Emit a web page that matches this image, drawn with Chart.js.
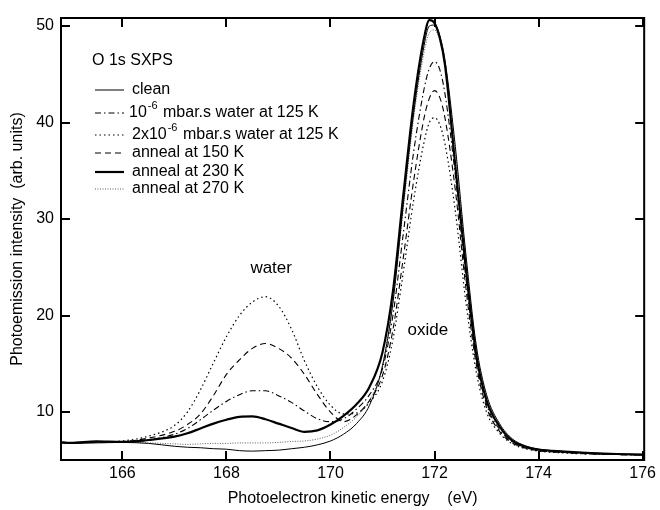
<!DOCTYPE html>
<html>
<head>
<meta charset="utf-8">
<script src="https://cdn.jsdelivr.net/npm/chart.js@4.4.1/dist/chart.umd.min.js"></script>
<style>
  html, body { margin: 0; padding: 0; background: #fff; }
</style>
</head>
<body>
<canvas id="myChartO1s" width="660" height="510"></canvas>
<script>
//? Données O 1s SXPS.

const energie = [164.8, 165.0, 165.5, 166.0, 166.5, 167.0, 167.25, 167.5, 167.75, 168.0, 168.25, 168.5, 168.75, 169.0, 169.25, 169.5, 169.75, 170.0, 170.25, 170.5, 170.75, 171.0, 171.2, 171.4, 171.6, 171.8, 171.9, 172.0, 172.1, 172.2, 172.4, 172.6, 172.8, 173.0, 173.25, 173.5, 173.75, 174.0, 174.5, 175.0, 175.5, 176.0];

const clean = [6.8, 6.75, 6.8, 6.85, 6.75, 6.45, 6.35, 6.3, 6.2, 6.15, 6.0, 5.95, 6.0, 6.05, 6.2, 6.35, 6.6, 7.0, 7.7, 8.8, 10.7, 14.8, 21.3, 31.5, 41.0, 48.0, 50.0, 50.1, 49.0, 46.5, 37.5, 26.5, 17.0, 11.8, 8.8, 7.2, 6.5, 6.15, 5.9, 5.75, 5.65, 5.55];

const eau1e6 = [6.85, 6.8, 6.9, 6.9, 7.1, 7.7, 8.3, 9.2, 10.2, 11.1, 11.8, 12.2, 12.2, 11.7, 11.0, 10.1, 9.3, 9.0, 9.3, 10.3, 11.8, 14.5, 20.0, 28.5, 37.0, 43.5, 45.6, 46.3, 45.5, 43.0, 34.5, 24.0, 15.5, 10.8, 8.2, 6.9, 6.3, 6.0, 5.8, 5.7, 5.6, 5.55];

const eau2e6 = [6.85, 6.8, 6.9, 7.0, 7.5, 8.6, 10.0, 12.3, 15.1, 17.8, 20.0, 21.4, 21.95, 21.0, 18.6, 15.3, 12.6, 10.7, 9.8, 9.9, 11.0, 13.2, 17.5, 24.5, 32.0, 38.0, 40.0, 40.5, 39.8, 37.8, 30.8, 21.5, 14.2, 10.0, 7.8, 6.7, 6.2, 5.95, 5.75, 5.65, 5.6, 5.55];

const recuit150 = [6.85, 6.8, 6.9, 6.95, 7.3, 8.0, 8.7, 9.8, 11.7, 13.9, 15.4, 16.6, 17.1, 16.6, 15.6, 13.9, 11.8, 10.0, 9.0, 9.7, 11.2, 13.8, 18.5, 26.0, 34.0, 40.5, 42.5, 43.3, 42.6, 40.5, 33.0, 23.0, 15.0, 10.5, 8.0, 6.8, 6.25, 6.0, 5.8, 5.65, 5.6, 5.55];

const recuit230 = [6.9, 6.8, 6.95, 6.9, 7.1, 7.45, 7.8, 8.3, 8.8, 9.2, 9.5, 9.55, 9.25, 8.8, 8.35, 7.95, 8.1, 8.7, 9.6, 10.8, 12.6, 16.2, 22.5, 32.5, 42.0, 48.8, 50.6, 50.3, 48.8, 46.0, 35.5, 25.0, 16.0, 11.2, 8.5, 7.0, 6.4, 6.1, 5.9, 5.75, 5.65, 5.6];

const recuit270 = [6.85, 6.8, 6.85, 6.85, 6.8, 6.7, 6.65, 6.7, 6.75, 6.75, 6.8, 6.8, 6.8, 6.85, 6.95, 7.0, 7.2, 7.6, 8.4, 9.5, 11.2, 14.8, 21.5, 31.0, 40.5, 47.3, 49.3, 49.6, 48.5, 46.0, 37.0, 26.0, 16.8, 11.6, 8.7, 7.1, 6.45, 6.1, 5.85, 5.7, 5.6, 5.55];

const etiquettes = ["clean", "10^-6 mbar.s water at 125 K", "2x10^-6 mbar.s water at 125 K", "anneal at 150 K", "anneal at 230 K", "anneal at 270 K"];

const graduationsX = [166, 168, 170, 172, 174, 176];
const graduationsY = [10, 20, 30, 40, 50];

//? -------------------------------------------------

const POLICE = "'Liberation Sans', Arial, Helvetica, sans-serif";
Chart.defaults.font.family = POLICE;
Chart.defaults.color = "#000";

const versPoints = (serie) => energie.map((x, i) => ({ x, y: serie[i] }));

const styleCourbe = (label, serie, largeur, tirets, couleur) => ({
  label,
  data: versPoints(serie),
  borderColor: couleur || "#000",
  backgroundColor: couleur || "#000",
  borderWidth: largeur,
  borderDash: tirets,
  pointRadius: 0,
  fill: false,
  cubicInterpolationMode: "monotone",
});

//? Texte avec exposant (ex: 10^-6).
const ecrireAvecExposant = (ctx, texte, x, y) => {
  const m = texte.match(/^(.*?)\^(\S+)(.*)$/);
  ctx.font = "16px " + POLICE;
  if (!m) {
    ctx.fillText(texte, x, y);
    return;
  }
  ctx.fillText(m[1], x, y);
  let cx = x + ctx.measureText(m[1]).width + 1;
  ctx.font = "11px " + POLICE;
  ctx.fillText(m[2], cx, y - 7);
  cx += ctx.measureText(m[2]).width + 1;
  ctx.font = "16px " + POLICE;
  ctx.fillText(m[3], cx, y);
};

const cadreEtTextes = {
  id: "cadreEtTextes",
  afterDatasetsDraw(chart) {
    const { ctx, chartArea: a, scales } = chart;
    const sx = scales.x;
    const sy = scales.y;
    ctx.save();

    //? Cadre + graduations vers l'intérieur
    ctx.strokeStyle = "#000";
    ctx.lineWidth = 2;
    ctx.strokeRect(a.left, a.top, a.right - a.left, a.bottom - a.top);
    const tl = 9;
    ctx.beginPath();
    graduationsX.forEach((v) => {
      const px = Math.round(sx.getPixelForValue(v));
      ctx.moveTo(px, a.bottom);
      ctx.lineTo(px, a.bottom - tl);
      ctx.moveTo(px, a.top);
      ctx.lineTo(px, a.top + tl);
    });
    graduationsY.forEach((v) => {
      const py = Math.round(sy.getPixelForValue(v));
      ctx.moveTo(a.left, py);
      ctx.lineTo(a.left + tl, py);
      ctx.moveTo(a.right, py);
      ctx.lineTo(a.right - tl, py);
    });
    ctx.stroke();

    //? Légende
    ctx.fillStyle = "#000";
    ctx.textBaseline = "middle";
    ctx.textAlign = "left";
    ctx.font = "16px " + POLICE;
    ctx.fillText("O 1s SXPS", 92, 61);

    const lignesY = [90, 113, 135, 153, 172, 189];
    chart.data.datasets.forEach((ds, i) => {
      const yy = lignesY[i];
      ctx.save();
      ctx.strokeStyle = ds.borderColor;
      ctx.lineWidth = ds.borderWidth;
      ctx.setLineDash(ds.borderDash || []);
      ctx.beginPath();
      ctx.moveTo(95, yy);
      ctx.lineTo(124, yy);
      ctx.stroke();
      ctx.restore();
      ecrireAvecExposant(ctx, ds.label, i === 1 ? 129 : 132, yy);
    });

    //? Annotations
    ctx.font = "17px " + POLICE;
    ctx.textAlign = "center";
    ctx.fillText("water", sx.getPixelForValue(168.86), sy.getPixelForValue(24.9));
    ctx.fillText("oxide", sx.getPixelForValue(171.87), sy.getPixelForValue(18.5));

    ctx.restore();
  },
};

//? Construction du graphique.

const constructionDuGraphique = () => {
  try {
    const ctxO1s = document.getElementById("myChartO1s").getContext("2d");

    const data = {
      datasets: [
        styleCourbe(etiquettes[0], clean, 1, []),
        styleCourbe(etiquettes[1], eau1e6, 1.1, [6, 3, 1.5, 3]),
        styleCourbe(etiquettes[2], eau2e6, 1.2, [1.5, 3]),
        styleCourbe(etiquettes[3], recuit150, 1.1, [6, 4]),
        styleCourbe(etiquettes[4], recuit230, 2.2, []),
        styleCourbe(etiquettes[5], recuit270, 0.8, [1, 1.5], "#333"),
      ],
    };

    const options = {
      responsive: false,
      animation: false,
      devicePixelRatio: 1,
      layout: { padding: { top: 18, right: 13, left: 0, bottom: 0 } },
      plugins: { legend: { display: false }, tooltip: { enabled: false } },
      scales: {
        x: {
          type: "linear",
          min: 164.82,
          max: 176.03,
          grid: { display: false, drawTicks: false },
          border: { display: false },
          afterBuildTicks: (scale) => {
            scale.ticks = graduationsX.map((value) => ({ value }));
          },
          afterFit: (scale) => {
            scale.height = 50;
          },
          ticks: { font: { size: 16 }, padding: 4, maxRotation: 0 },
          title: {
            display: true,
            text: "Photoelectron kinetic energy    (eV)",
            font: { size: 16 },
            padding: { top: 0, bottom: 2 },
          },
        },
        y: {
          type: "linear",
          min: 5.03,
          max: 50.83,
          grid: { display: false, drawTicks: false },
          border: { display: false },
          afterBuildTicks: (scale) => {
            scale.ticks = graduationsY.map((value) => ({ value }));
          },
          afterFit: (scale) => {
            scale.width = 61;
          },
          ticks: { font: { size: 16 }, padding: 7 },
          title: {
            display: true,
            text: "Photoemission intensity  (arb. units)",
            font: { size: 16 },
            padding: { top: 8, bottom: 0 },
          },
        },
      },
    };

    new Chart(ctxO1s, { type: "line", data, options, plugins: [cadreEtTextes] });
  } catch (error) {
    console.log("🔴 ERREUR | Construction graphique :", error);
  }
};

constructionDuGraphique();
</script>
</body>
</html>
